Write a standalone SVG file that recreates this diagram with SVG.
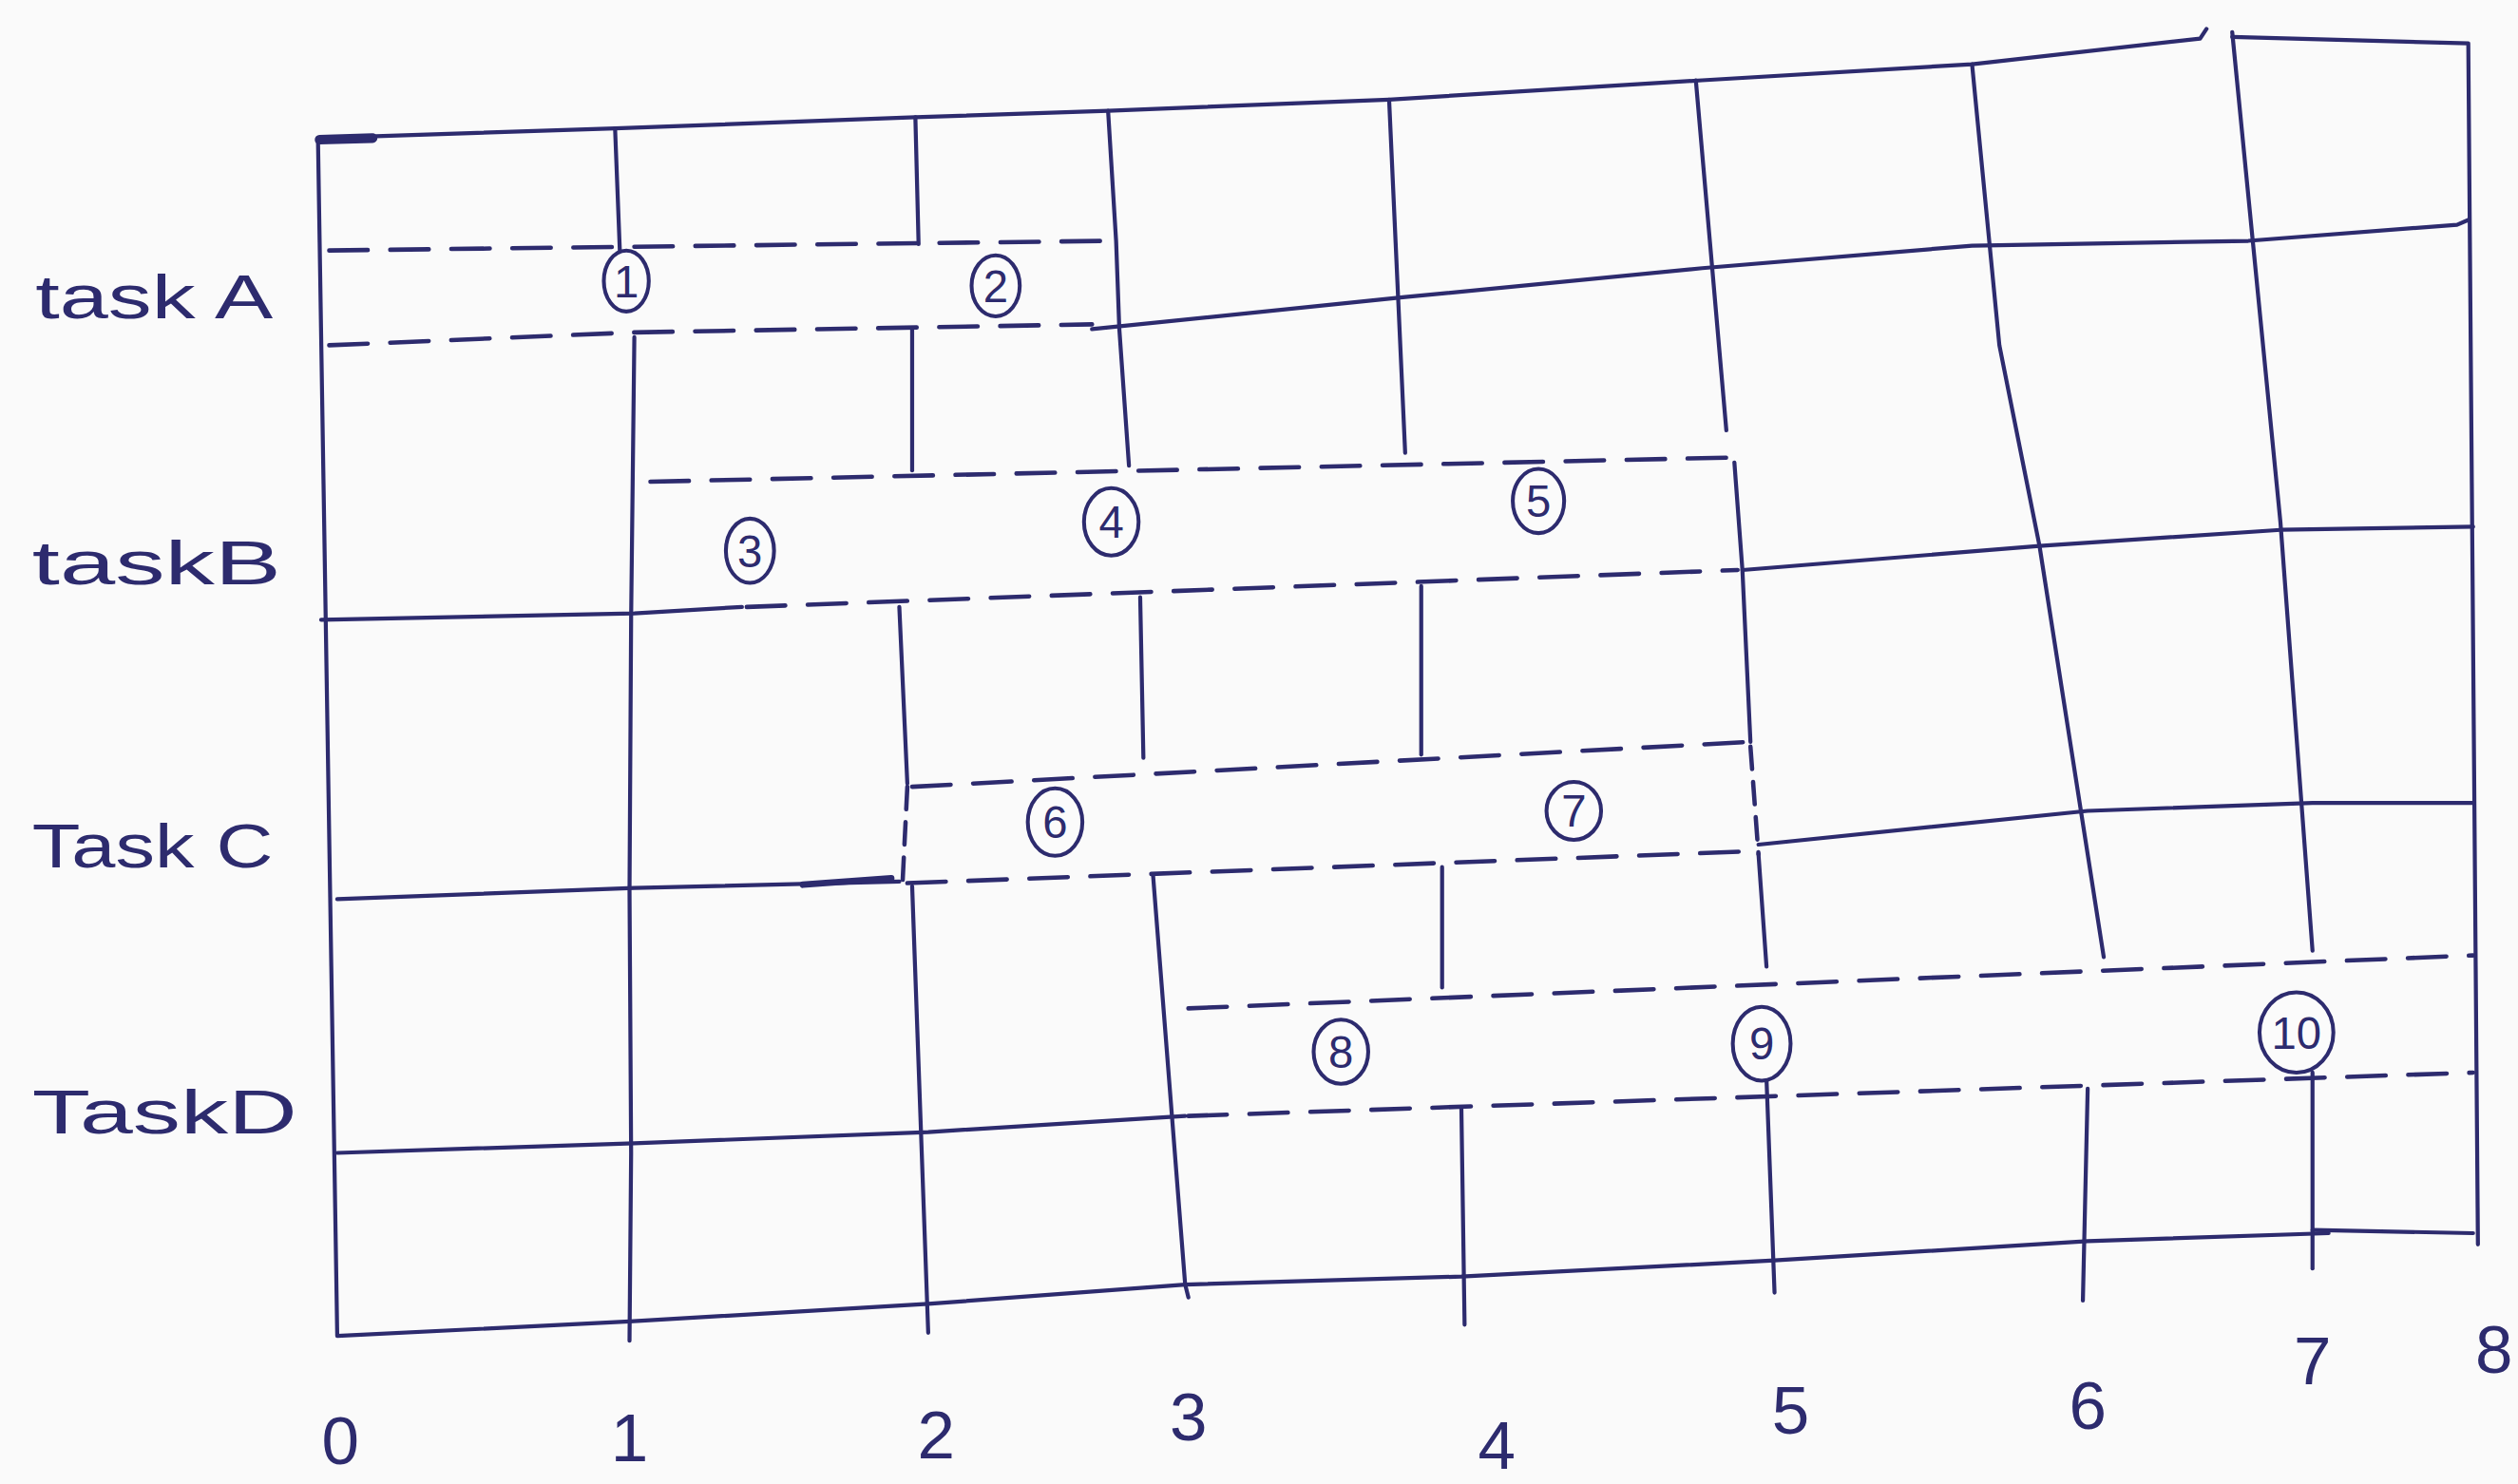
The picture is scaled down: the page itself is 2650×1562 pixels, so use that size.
<svg xmlns="http://www.w3.org/2000/svg" width="2650" height="1562" viewBox="0 0 2650 1562">
<style>
.ln{fill:none;stroke:#2d2b6e;stroke-width:2.5;stroke-linecap:round;stroke-linejoin:round}
.ds{fill:none;stroke:#2d2b6e;stroke-width:2.7;stroke-dasharray:24 14;stroke-linecap:round}
.nd ellipse{fill:#fbfbfb;stroke:#2d2b6e;stroke-width:2.4}
.nd text{font-family:"Liberation Sans",Arial,sans-serif;font-size:28px;fill:#2d2b6e;text-anchor:middle}
.lb{font-family:"Liberation Sans",Arial,sans-serif;font-size:38px;fill:#2d2b6e}
.ax{font-family:"Liberation Sans",Arial,sans-serif;font-size:42px;fill:#2d2b6e;text-anchor:middle}
</style>
<rect width="2650" height="1562" fill="#fafafa"/>
<g transform="scale(1.6901)">
<g id="connectors">
<g id="border">
<path class="ln" d="M198,86 L383,80 L570,73 L690,69 L865,62 L1060,50 L1228,40 L1370,24 L1374,18"/>
<path class="ln" d="M1390,23 L1537,27 L1543,775"/>
<path class="ln" d="M198,86 L210,832 L392,823 L578,812 L738,800 L910,795 L1105,785 L1300,773 L1450,768"/>
<path class="ln" d="M1440,766 L1540,768"/>
<path class="ln" style="stroke-width:6" d="M199,87 L232,86"/>
</g>
<g id="verticals">
<path class="ln" d="M383,80 L386,157"/>
<path class="ln" d="M395,210 L393,385 L392,555 L393,718 L392,835"/>
<path class="ln" d="M570,73 L572,152"/>
<path class="ln" d="M568,205 L568,293"/>
<path class="ln" d="M560,378 L565,488"/>
<path class="ln" d="M568,552 L578,830"/>
<path class="ln" d="M690,69 L695,150 L697,205 L703,290"/>
<path class="ln" d="M710,372 L712,472"/>
<path class="ln" d="M718,545 L738,800 L740,808"/>
<path class="ln" d="M865,62 L875,282"/>
<path class="ln" d="M885,365 L885,470"/>
<path class="ln" d="M898,540 L898,615"/>
<path class="ln" d="M910,690 L912,825"/>
<path class="ln" d="M1056,50 L1075,268"/>
<path class="ln" d="M1080,288 L1085,355 L1090,462"/>
<path class="ds" style="stroke-dasharray:14 8" d="M1090,465 L1095,532"/>
<path class="ln" d="M1095,532 L1100,602"/>
<path class="ln" d="M1100,672 L1105,805"/>
<path class="ln" d="M1228,40 L1245,215 L1270,340 L1310,596"/>
<path class="ln" d="M1300,678 L1297,810"/>
<path class="ln" d="M1390,20 L1420,325 L1440,592"/>
<path class="ln" d="M1440,668 L1440,790"/>
</g>
<g id="horizontals">
<path class="ln" d="M680,205 L875,185 L1060,167 L1228,153 L1400,150 L1530,140 L1537,137"/>
<path class="ln" d="M200,386 L395,382 L462,378"/>
<path class="ln" d="M1085,355 L1270,340 L1420,330 L1540,328"/>
<path class="ln" d="M210,560 L395,553 L560,549"/>
<path class="ln" style="stroke-width:4" d="M500,551 L555,547"/>
<path class="ln" d="M1095,526 L1300,505 L1440,500 L1540,500"/>
<path class="ln" d="M210,718 L395,712 L578,705 L738,695"/>
</g>
<g id="bands">
<path class="ds" d="M205,156 L690,150"/>
<path class="ds" d="M205,215 L395,207 L680,202"/>
<path class="ds" d="M405,300 L1075,285"/>
<path class="ds" d="M465,378 L1082,355"/>
<path class="ds" d="M568,490 L1090,462"/>
<path class="ds" d="M565,550 L1095,530"/>
<path class="ds" style="stroke-dasharray:14 8" d="M565,490 L562,550"/>
<path class="ds" d="M740,628 L1540,595"/>
<path class="ds" d="M740,695 L1540,668"/>
</g>
</g>
<g id="n1" class="nd"><ellipse cx="390" cy="175" rx="14" ry="19"/><text x="390" y="185">1</text></g>
<g id="n2" class="nd"><ellipse cx="620" cy="178" rx="15" ry="19"/><text x="620" y="188">2</text></g>
<g id="n3" class="nd"><ellipse cx="467" cy="343" rx="15" ry="20"/><text x="467" y="353">3</text></g>
<g id="n4" class="nd"><ellipse cx="692" cy="325" rx="17" ry="21"/><text x="692" y="335">4</text></g>
<g id="n5" class="nd"><ellipse cx="958" cy="312" rx="16" ry="20"/><text x="958" y="322">5</text></g>
<g id="n6" class="nd"><ellipse cx="657" cy="512" rx="17" ry="21"/><text x="657" y="522">6</text></g>
<g id="n7" class="nd"><ellipse cx="980" cy="505" rx="17" ry="18"/><text x="980" y="515">7</text></g>
<g id="n8" class="nd"><ellipse cx="835" cy="655" rx="17" ry="20"/><text x="835" y="665">8</text></g>
<g id="n9" class="nd"><ellipse cx="1097" cy="650" rx="18" ry="23"/><text x="1097" y="660">9</text></g>
<g id="n10" class="nd"><ellipse cx="1430" cy="643" rx="23" ry="25"/><text x="1430" y="653">10</text></g>
<g id="labels">
<text class="lb" x="22" y="198" textLength="148" lengthAdjust="spacingAndGlyphs">task A</text>
<text class="lb" x="20" y="364" textLength="155" lengthAdjust="spacingAndGlyphs">taskB</text>
<text class="lb" x="20" y="540" textLength="150" lengthAdjust="spacingAndGlyphs">Task C</text>
<text class="lb" x="20" y="706" textLength="165" lengthAdjust="spacingAndGlyphs">TaskD</text>
</g>
<g id="axis">
<text class="ax" x="212" y="912">0</text>
<text class="ax" x="392" y="910">1</text>
<text class="ax" x="583" y="908">2</text>
<text class="ax" x="740" y="897">3</text>
<text class="ax" x="932" y="915">4</text>
<text class="ax" x="1115" y="893">5</text>
<text class="ax" x="1300" y="890">6</text>
<text class="ax" x="1440" y="862">7</text>
<text class="ax" x="1553" y="855">8</text>
</g>
</g>
</svg>
